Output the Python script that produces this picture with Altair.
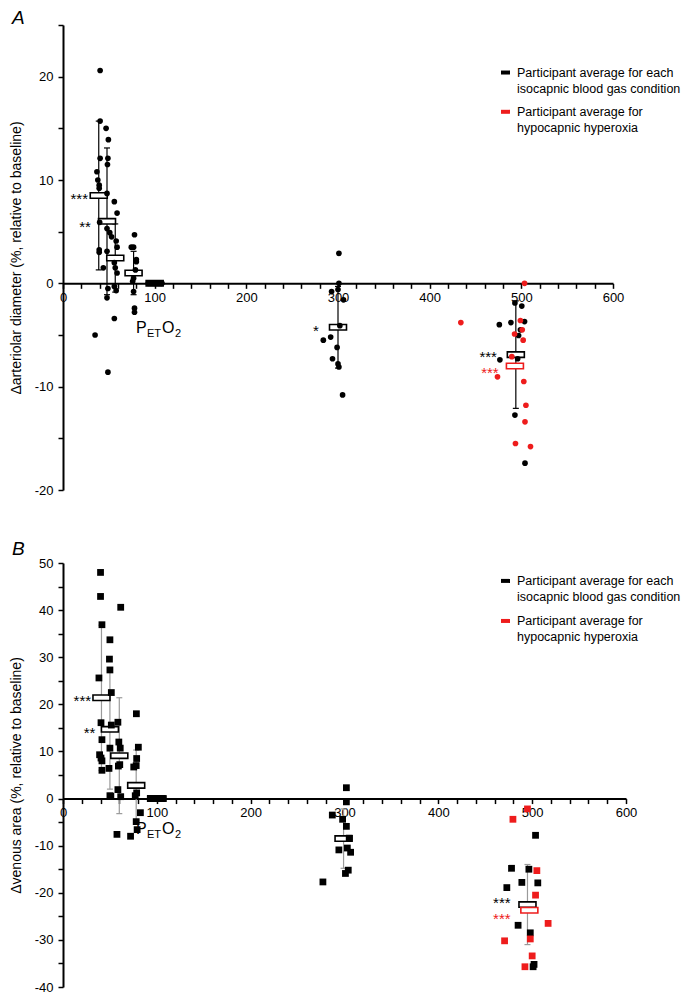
import altair as alt
import pandas as pd

FONT = "Liberation Sans"
RED = "#ee1c1c"

# ---------------- Panel A : arteriolar diameter ----------------
A_black_x = [40.5, 40.5, 40.5, 37, 38, 39.5, 39.5, 40, 39.5, 39.5, 44, 35,
             47, 49.5, 49, 48.5, 48, 48, 51, 53, 48, 49, 48, 49,
             56, 59, 58, 59, 56, 57, 59, 56, 58, 56,
             78, 74.5, 77, 80, 80, 79, 77, 76, 77, 78, 78,
             93, 95, 97, 98.5, 100, 101, 102.5, 104, 105.5, 107, 108,
             301, 301, 300, 293, 306, 302, 292, 284, 299, 294, 300, 301, 305,
             493, 500.5, 476, 488.6, 503.5, 499, 497, 496, 476.6, 493, 504]
A_black_y = [20.6, 15.7, 12.1, 10.8, 10.0, 9.5, 9.2, 5.9, 3.25, 3.0, 1.5, -5.0,
             15.0, 13.9, 12.1, 11.5, 8.7, 5.3, 4.9, 4.5, 3.1, -0.5, -1.4, -8.6,
             7.9, 6.8, 4.1, 3.5, 2.0, 1.5, 1.0, -0.3, -0.7, -3.4,
             4.7, 3.5, 3.5, 2.3, 2.1, 1.3, 0.5, 0.2, -0.8, -2.4, -2.8,
             0, 0, 0, 0, 0, 0, 0, 0, 0, 0, 0,
             2.9, 0.0, -0.6, -0.8, -1.6, -4.1, -5.2, -5.5, -6.2, -7.3, -7.8, -8.1, -10.8,
             -1.9, -2.2, -4.0, -3.8, -3.7, -4.5, -5.05, -7.3, -7.4, -12.75, -17.4]
A_red_x = [503.5, 434, 499, 501, 492.6, 502, 489.6, 474, 502.7, 505, 504, 493.6, 510]
A_red_y = [0.0, -3.8, -3.6, -4.5, -4.9, -5.5, -7.1, -9.05, -9.5, -11.8, -13.4, -15.5, -15.8]
A_mean_x = [39, 48, 57, 77, 100, 300, 494]
A_mean_y = [8.5, 6.0, 2.45, 1.0, 0.0, -4.25, -6.9]
A_sd = [7.2, 7.1, 3.3, 2.1, 0.0, 3.95, 5.2]
A_red_mean_x = [493]
A_red_mean_y = [-8.0]
A_star_text = ["***", "**", "*", "***", "***"]
A_star_x = [27.3, 30.5, 279, 473.4, 475.3]
A_star_y = [8.5, 5.8, -4.3, -6.8, -8.35]
A_star_col = ["black", "black", "black", "black", RED]

# ---------------- Panel B : venous area ----------------
B_black_x = [40, 40, 41.5, 38.3, 40.5, 41.5, 39, 40.5, 41.5, 41.5,
             50, 49.5, 50, 51.5, 51.5, 50, 49, 50, 51,
             61.5, 58.5, 59.5, 61, 60.5, 59, 58.5, 61.5, 57.5,
             78.2, 80.3, 78.5, 75.4, 78, 78.5, 77, 82.5, 78, 79, 72,
             93, 95, 97, 98.5, 100, 101, 102.5, 104, 105.5, 107,
             302, 302, 287, 298, 302, 305, 303, 294, 306.5, 304, 301, 277,
             503.6, 478, 496.5, 489, 506, 473, 485, 498, 502, 501]
B_black_y = [48.0, 42.9, 36.9, 25.6, 16.1, 12.5, 9.3, 8.6, 8.0, 6.0,
             33.7, 29.6, 27.3, 22.5, 15.6, 10.7, 6.4, 0.6, 0.5,
             40.6, 16.2, 12.0, 10.7, 7.2, 6.9, 1.9, 0.4, -7.6,
             18.0, 10.9, 8.5, 6.7, 7.0, 1.2, 0.6, -3.0, -4.9, -6.6, -8.0,
             0, 0, 0, 0, 0, 0, 0, 0, 0, 0,
             2.3, -0.7, -3.5, -4.4, -5.9, -8.4, -10.5, -10.9, -11.4, -15.2, -15.9, -17.7,
             -7.8, -14.8, -15.0, -17.8, -17.9, -18.9, -26.9, -28.5, -35.2, -35.7]
B_red_x = [495, 479.5, 505, 503.6, 517, 498, 470.6, 500, 492.3]
B_red_y = [-2.2, -4.4, -15.3, -20.5, -26.5, -29.8, -30.2, -33.4, -35.7]
B_mean_x = [41, 50, 60, 78, 99.5, 299, 495]
B_mean_y = [21.4, 14.7, 9.1, 2.8, 0.0, -8.5, -22.5]
B_sd = [15.4, 12.7, 12.3, 7.5, 0.0, 6.3, 8.5]
B_red_mean_x = [497]
B_red_mean_y = [-23.7]
B_star_text = ["***", "**", "***", "***"]
B_star_x = [29.9, 34.5, 477, 477]
B_star_y = [21.4, 14.7, -21.5, -24.9]
B_star_col = ["black", "black", "black", RED]

LEGEND_TEXT = ["Participant average for each", "isocapnic blood gas condition",
               "Participant average for", "hypocapnic hyperoxia"]

BOX = "M-1,-0.32L1,-0.32L1,0.32L-1,0.32Z"
CAP = "M-1,0L1,0"


def make_panel(cfg):
    ymin, ymax = cfg["ydom"]
    W, H = cfg["W"], cfg["H"]
    ppu = H / (ymax - ymin)
    xppu = W / 600.0
    zero_from_bottom = H * (0 - ymin) / (ymax - ymin)

    xs = alt.Scale(domain=[0, 600], nice=False, zero=False)
    ys = alt.Scale(domain=[ymin, ymax], nice=False, zero=False)
    xaxis = alt.Axis(values=list(range(0, 601, 20)),
                     labelExpr="datum.value % 100 == 0 ? toString(datum.value) : ''",
                     offset=-zero_from_bottom, grid=False, domainColor="black",
                     domainWidth=2, tickColor="black", tickWidth=1.5, tickSize=5,
                     labelFont=FONT, labelFontSize=13, labelColor="black",
                     labelPadding=3, labelFlush=False, labelOverlap=False, title="")
    yaxis = alt.Axis(values=list(range(int(ymin), int(ymax) + 1, 5)),
                     labelExpr="datum.value % 10 == 0 ? toString(datum.value) : ''",
                     grid=False, domainColor="black", domainWidth=2,
                     tickColor="black", tickWidth=1.5, tickSize=5,
                     labelFont=FONT, labelFontSize=13, labelColor="black",
                     labelPadding=5, labelFlush=False, labelOverlap=False,
                     title=cfg["ytitle"], titleFont=FONT, titleFontSize=14,
                     titleFontWeight="normal", titleColor="black", titlePadding=11)

    def X(f="x"):
        return alt.X(f + ":Q", scale=xs, axis=xaxis, title="")

    def Y(f="y"):
        return alt.Y(f + ":Q", scale=ys, axis=yaxis, title=cfg["ytitle"])

    pts_k = pd.DataFrame({"x": cfg["bx"], "y": cfg["by"]})
    pts_r = pd.DataFrame({"x": cfg["rx"], "y": cfg["ry"]})
    means = pd.DataFrame({"x": cfg["mx"], "y": cfg["my"], "sd": cfg["sd"]})
    means["lo"] = means["y"] - means["sd"]
    means["hi"] = means["y"] + means["sd"]
    bars = means[means["sd"] > 0]
    caps = pd.concat([bars[["x", "lo"]].rename(columns={"lo": "y"}),
                      bars[["x", "hi"]].rename(columns={"hi": "y"})])
    rmeans = pd.DataFrame({"x": cfg["rmx"], "y": cfg["rmy"]})
    stars = pd.DataFrame({"x": cfg["sx"], "y": cfg["sy"], "t": cfg["st"], "c": cfg["sc"]})

    # legend positions (data units)
    lx_sw1 = (cfg["sw_px"][0]) / xppu
    lx_sw2 = (cfg["sw_px"][1]) / xppu
    lx_txt = cfg["txt_px"] / xppu
    ly1 = cfg["leg_y"][0]
    ly2 = cfg["leg_y"][1]
    lh = 16 / ppu
    leg_txt = pd.DataFrame({"x": [lx_txt] * 4,
                            "y": [ly1, ly1 - lh, ly2, ly2 - lh],
                            "t": LEGEND_TEXT})
    leg_sw = pd.DataFrame({"x": [lx_sw1, lx_sw1], "x2": [lx_sw2, lx_sw2],
                           "y": [ly1, ly2], "c": ["black", RED]})

    letter = pd.DataFrame({"x": [-51 / xppu], "y": [ymax + cfg["letter_up"] / ppu],
                           "t": [cfg["letter"]]})
    base_y = -(cfg["pet_base"]) / ppu
    big = pd.DataFrame({"x": [(134 - 61) / xppu, (160 - 61) / xppu],
                        "y": [base_y, base_y], "t": ["P", "O"]})
    small = pd.DataFrame({"x": [(145 - 61) / xppu, (173 - 61) / xppu],
                          "y": [base_y - 4 / ppu, base_y - 4 / ppu], "t": ["ET", "2"]})

    layers = []
    layers.append(alt.Chart(bars).mark_rule(color=cfg["barcol"], strokeWidth=1.2)
                  .encode(x=X(), y=Y("lo"), y2=alt.Y2("hi:Q")))
    layers.append(alt.Chart(caps).mark_point(shape=CAP, size=36, filled=False,
                                             color=cfg["barcol"], strokeWidth=1.2, opacity=1)
                  .encode(x=X(), y=Y()))
    layers.append(alt.Chart(means).mark_point(shape=BOX, size=289, filled=True, fill="white",
                                              stroke="black", strokeWidth=1.6, opacity=1)
                  .encode(x=X(), y=Y()))
    layers.append(alt.Chart(rmeans).mark_point(shape=BOX, size=289, filled=True, fill="white",
                                               stroke=RED, strokeWidth=1.6, opacity=1)
                  .encode(x=X(), y=Y()))
    if cfg["shape"] == "circle":
        layers.append(alt.Chart(pts_k).mark_circle(size=32, color="black", opacity=1)
                      .encode(x=X(), y=Y()))
        layers.append(alt.Chart(pts_r).mark_circle(size=32, color=RED, opacity=1)
                      .encode(x=X(), y=Y()))
    else:
        layers.append(alt.Chart(pts_k).mark_square(size=46, color="black", opacity=1)
                      .encode(x=X(), y=Y()))
        layers.append(alt.Chart(pts_r).mark_square(size=46, color=RED, opacity=1)
                      .encode(x=X(), y=Y()))
    layers.append(alt.Chart(stars).mark_text(align="right", baseline="alphabetic", dy=8.6,
                                             fontSize=15, font=FONT)
                  .encode(x=X(), y=Y(), text="t:N", color=alt.Color("c:N", scale=None)))
    layers.append(alt.Chart(leg_sw).mark_rule(strokeWidth=4)
                  .encode(x=X(), x2=alt.X2("x2:Q"), y=Y(), color=alt.Color("c:N", scale=None)))
    layers.append(alt.Chart(leg_txt).mark_text(align="left", baseline="middle", fontSize=12.5,
                                               font=FONT, color="black")
                  .encode(x=X(), y=Y(), text="t:N"))
    layers.append(alt.Chart(letter).mark_text(align="left", baseline="top", fontSize=19,
                                              fontStyle="italic", font=FONT, color="black")
                  .encode(x=X(), y=Y(), text="t:N"))
    layers.append(alt.Chart(big).mark_text(align="left", baseline="alphabetic", fontSize=16,
                                           font=FONT, color="black")
                  .encode(x=X(), y=Y(), text="t:N"))
    layers.append(alt.Chart(small).mark_text(align="left", baseline="alphabetic", fontSize=11,
                                             font=FONT, color="black")
                  .encode(x=X(), y=Y(), text="t:N"))
    return alt.layer(*layers).properties(width=W, height=H)


panelA = make_panel(dict(
    ydom=(-20, 25), W=550, H=465, ytitle="\u0394arteriolar diameter (%, relative to baseline)",
    bx=A_black_x, by=A_black_y, rx=A_red_x, ry=A_red_y,
    mx=A_mean_x, my=A_mean_y, sd=A_sd, rmx=A_red_mean_x, rmy=A_red_mean_y,
    sx=A_star_x, sy=A_star_y, st=A_star_text, sc=A_star_col,
    sw_px=(438, 447), txt_px=454, leg_y=(20.4, 16.6),
    letter="A", letter_up=16, pet_base=50, shape="circle", barcol="black"))

panelB = make_panel(dict(
    ydom=(-40, 50), W=563, H=424, ytitle="\u0394venous area (%, relative to baseline)",
    bx=B_black_x, by=B_black_y, rx=B_red_x, ry=B_red_y,
    mx=B_mean_x, my=B_mean_y, sd=B_sd, rmx=B_red_mean_x, rmy=B_red_mean_y,
    sx=B_star_x, sy=B_star_y, st=B_star_text, sc=B_star_col,
    sw_px=(438, 447), txt_px=454, leg_y=(46.2, 37.7),
    letter="B", letter_up=23, pet_base=35, shape="square", barcol="#9a9a9a"))

chart = (alt.vconcat(panelA, panelB, spacing=41)
         .properties(padding=0, background="white")
         .configure_view(stroke="transparent"))

chart.save("out.html", embed_options={"renderer": "svg", "actions": False})
